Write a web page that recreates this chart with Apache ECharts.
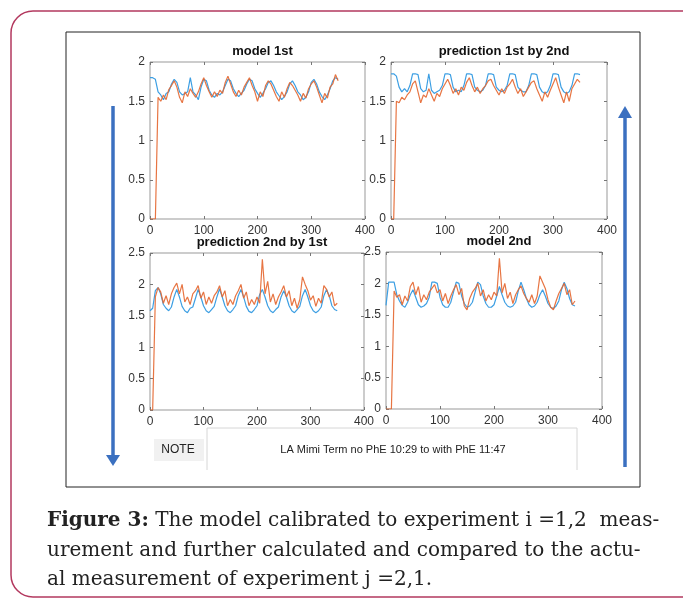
<!DOCTYPE html>
<html>
<head>
<meta charset="utf-8">
<script src="https://cdn.jsdelivr.net/npm/echarts@6/dist/echarts.min.js"></script>
<style>
html,body{margin:0;padding:0;background:#fff;}
#chart{width:683px;height:601px;}
</style>
</head>
<body>
<div id="chart"></div>
<script>
// ---- data ----
var xs = [0,5,10,15,20,25,30,35,40,45,
  50,55,60,65,70,75,80,85,90,95,
  100,105,110,115,120,125,130,135,140,145,
  150,155,160,165,170,175,180,185,190,195,
  200,205,210,215,220,225,230,235,240,245,
  250,255,260,265,270,275,280,285,290,295,
  300,305,310,315,320,325,330,335,340,345,
  350];

var titles = ['model 1st', 'prediction 1st by 2nd', 'prediction 2nd by 1st', 'model 2nd'];
var xTickMax = 400;
var topYMax = 2;
var bottomYMax = 2.5;

// model 1st
var tlBlue = [1.80,1.80,1.78,1.62,1.58,1.52,1.60,1.62,1.72,1.78,
  1.74,1.62,1.58,1.60,1.62,1.80,1.62,1.58,1.52,1.68,
  1.78,1.76,1.64,1.58,1.55,1.60,1.58,1.62,1.70,1.78,
  1.76,1.66,1.60,1.56,1.60,1.64,1.72,1.78,1.76,1.66,
  1.60,1.55,1.60,1.66,1.74,1.76,1.70,1.62,1.57,1.52,
  1.56,1.62,1.72,1.76,1.70,1.62,1.58,1.52,1.55,1.62,
  1.74,1.78,1.72,1.62,1.56,1.52,1.58,1.66,1.76,1.80,
  1.78];
var tlOrange = [0,0,0,1.55,1.50,1.58,1.52,1.65,1.70,1.76,
  1.68,1.55,1.48,1.62,1.56,1.66,1.60,1.55,1.62,1.72,
  1.80,1.70,1.62,1.55,1.62,1.56,1.64,1.60,1.74,1.82,
  1.72,1.62,1.56,1.64,1.58,1.68,1.74,1.80,1.70,1.62,
  1.50,1.62,1.56,1.70,1.76,1.72,1.64,1.56,1.50,1.62,
  1.55,1.66,1.74,1.70,1.64,1.58,1.50,1.60,1.54,1.66,
  1.72,1.76,1.68,1.58,1.48,1.60,1.54,1.68,1.72,1.84,
  1.76];

// prediction 1st by 2nd
var trBlue = [1.85,1.85,1.82,1.68,1.62,1.66,1.62,1.70,1.85,1.85,
  1.84,1.66,1.62,1.64,1.85,1.64,1.60,1.62,1.64,1.70,
  1.85,1.85,1.84,1.68,1.62,1.64,1.62,1.70,1.85,1.85,
  1.84,1.68,1.64,1.62,1.64,1.70,1.85,1.85,1.84,1.68,
  1.64,1.62,1.64,1.70,1.85,1.85,1.84,1.68,1.64,1.62,
  1.62,1.70,1.85,1.85,1.84,1.68,1.62,1.60,1.62,1.70,
  1.85,1.85,1.84,1.68,1.62,1.60,1.62,1.70,1.85,1.85,
  1.84];
var trOrange = [0,0,1.50,1.48,1.55,1.52,1.58,1.62,1.72,1.76,
  1.62,1.48,1.58,1.55,1.66,1.58,1.50,1.60,1.56,1.66,
  1.72,1.78,1.70,1.60,1.66,1.58,1.68,1.64,1.74,1.80,
  1.70,1.62,1.68,1.60,1.66,1.70,1.76,1.78,1.70,1.64,
  1.58,1.66,1.60,1.68,1.72,1.78,1.68,1.60,1.66,1.56,
  1.62,1.68,1.74,1.76,1.66,1.58,1.50,1.62,1.55,1.64,
  1.72,1.80,1.68,1.58,1.48,1.62,1.50,1.66,1.72,1.78,
  1.74];

// prediction 2nd by 1st
var blBlue = [1.58,1.62,1.90,1.95,1.85,1.68,1.62,1.58,1.64,1.80,
  1.92,1.80,1.65,1.58,1.55,1.62,1.64,1.78,1.92,1.80,
  1.66,1.58,1.55,1.60,1.65,1.80,1.93,1.80,1.66,1.58,
  1.55,1.60,1.66,1.82,1.92,1.80,1.65,1.57,1.55,1.60,
  1.66,1.84,1.92,1.80,1.66,1.58,1.55,1.60,1.64,1.80,
  1.90,1.80,1.66,1.58,1.55,1.60,1.65,1.82,1.92,1.80,
  1.66,1.58,1.55,1.58,1.64,1.82,1.92,1.82,1.66,1.60,
  1.58];
var blOrange = [0,0,1.80,1.95,1.88,1.70,1.82,1.68,1.85,1.95,
  2.02,1.85,2.00,1.72,1.80,1.68,1.85,1.90,1.98,1.78,
  1.88,1.68,1.80,1.70,1.82,1.88,1.98,1.80,1.90,1.66,
  1.76,1.68,1.82,1.90,2.00,1.78,1.88,1.66,1.76,1.68,
  1.80,1.70,2.40,1.85,2.05,1.72,1.85,1.68,1.80,1.88,
  1.98,1.80,1.90,1.66,1.78,1.62,1.76,2.12,2.00,1.90,
  1.75,1.82,1.65,1.78,1.70,1.98,1.92,1.80,1.88,1.66,
  1.70];

// model 2nd
var brBlue = [1.65,2.02,2.02,2.02,1.82,1.72,1.65,1.62,1.70,1.82,
  1.90,1.78,1.66,1.62,1.64,1.68,1.78,2.02,2.02,2.00,
  1.78,1.66,1.62,1.62,1.70,1.86,2.02,2.00,1.80,1.68,
  1.62,1.64,1.70,1.86,2.02,1.98,1.80,1.68,1.62,1.62,
  1.66,1.80,1.95,1.82,1.70,1.64,1.62,1.64,1.70,1.88,
  2.02,1.90,1.76,1.66,1.62,1.64,1.70,1.82,1.90,1.80,
  1.68,1.62,1.60,1.64,1.72,1.90,2.02,1.92,1.76,1.66,
  1.64];
var brOrange = [0,0,0,1.88,1.78,1.82,1.66,1.80,1.72,1.95,
  2.02,1.82,1.95,1.70,1.82,1.74,1.86,1.92,1.98,1.85,
  1.90,1.72,1.84,1.68,1.80,1.90,1.98,1.82,1.92,1.64,
  1.58,1.76,1.86,1.92,2.00,1.80,1.90,1.72,1.82,1.74,
  1.86,1.80,2.40,1.85,2.00,1.76,1.86,1.68,1.82,1.90,
  1.96,1.84,1.76,1.70,1.82,1.68,1.80,2.12,2.02,1.92,
  1.74,1.62,1.58,1.72,1.84,1.92,2.00,1.82,1.90,1.66,
  1.72];

var noteLabel = 'NOTE';
var noteText = 'LA Mimi Term no PhE 10:29 to with PhE 11:47';
var captionLines = [
  '{b|Figure 3:} The model calibrated to experiment i =1,2  meas-',
  'urement and further calculated and compared to the actu-',
  'al measurement of experiment j =2,1.'
];

// ---- layout ----
var grids = [
  {left:150, top:62, width:215, height:157},
  {left:391, top:62, width:216, height:157},
  {left:150, top:253, width:214, height:157},
  {left:386, top:252, width:216, height:157}
];
var yMaxes = [topYMax, topYMax, bottomYMax, bottomYMax];
var seriesData = [[tlBlue, tlOrange],[trBlue, trOrange],[blBlue, blOrange],[brBlue, brOrange]];
var BLUE = '#3d9fe3', ORANGE = '#e4662f';
var FONT = 'Liberation Sans, Arial, sans-serif';

function pairs(vals){ return xs.map(function(x,i){ return [x, vals[i]]; }); }
function tick(){ return {show:true, inside:true, length:3, lineStyle:{color:'#777', width:1}}; }

var xAxes = [], yAxes = [], series = [], titleArr = [];
grids.forEach(function(g, i){
  xAxes.push({type:'value', gridIndex:i, min:0, max:xTickMax, interval:100, position:'bottom',
    axisLine:{show:false, onZero:false}, axisTick:tick(), splitLine:{show:false},
    axisLabel:{color:'#333', fontSize:12, fontFamily:FONT, margin:6}});
  xAxes.push({type:'value', gridIndex:i, min:0, max:xTickMax, interval:100, position:'top',
    axisLine:{show:false, onZero:false}, axisTick:tick(), splitLine:{show:false}, axisLabel:{show:false}});
  yAxes.push({type:'value', gridIndex:i, min:0, max:yMaxes[i], interval:0.5, position:'left',
    axisLine:{show:false, onZero:false}, axisTick:tick(), splitLine:{show:false},
    axisLabel:{color:'#333', fontSize:12, fontFamily:FONT, margin:5}});
  yAxes.push({type:'value', gridIndex:i, min:0, max:yMaxes[i], interval:0.5, position:'right',
    axisLine:{show:false, onZero:false}, axisTick:tick(), splitLine:{show:false}, axisLabel:{show:false}});
  series.push({type:'line', xAxisIndex:2*i, yAxisIndex:2*i, data:pairs(seriesData[i][0]),
    showSymbol:false, symbol:'none', lineStyle:{color:BLUE, width:1.2}, animation:false, z:2});
  series.push({type:'line', xAxisIndex:2*i, yAxisIndex:2*i, data:pairs(seriesData[i][1]),
    showSymbol:false, symbol:'none', lineStyle:{color:ORANGE, width:1.2, opacity:0.9}, animation:false, z:3});
  titleArr.push({text:titles[i], left:g.left + g.width/2, top:g.top - 22, textAlign:'center',
    textStyle:{fontSize:13, fontWeight:'bold', color:'#111', fontFamily:FONT}});
});

var gridArr = grids.map(function(g){
  return {left:g.left, top:g.top, width:g.width, height:g.height, show:true,
    borderColor:'#999', borderWidth:1, backgroundColor:'#fff'};
});

var ARROW = '#3b70c0';
var CAPFONT = '"DejaVu Serif", serif';
var graphic = [
  {type:'rect', shape:{x:11, y:11, width:720, height:586, r:22}, style:{fill:'none', stroke:'#b3395f', lineWidth:1.5}, silent:true},
  {type:'rect', shape:{x:66, y:32, width:574, height:455}, style:{fill:'none', stroke:'#222', lineWidth:1}, silent:true},
  {type:'line', shape:{x1:113, y1:106, x2:113, y2:456}, style:{stroke:ARROW, lineWidth:3.5}, silent:true},
  {type:'polygon', shape:{points:[[106,455],[120,455],[113,466]]}, style:{fill:ARROW}, silent:true},
  {type:'line', shape:{x1:625, y1:116, x2:625, y2:467}, style:{stroke:ARROW, lineWidth:3.5}, silent:true},
  {type:'polygon', shape:{points:[[618,118],[632,118],[625,106]]}, style:{fill:ARROW}, silent:true},
  {type:'rect', shape:{x:154, y:439, width:50, height:22}, style:{fill:'#f1f1f1'}, silent:true},
  {type:'polyline', shape:{points:[[207,470],[207,428],[577,428],[577,470]]}, style:{stroke:'#d6d6d6', lineWidth:1, fill:'none'}, silent:true},
  {type:'text', x:178, y:450, style:{text:noteLabel, font:'12px ' + FONT, fill:'#222', align:'center', verticalAlign:'middle'}, silent:true},
  {type:'text', x:393, y:450, style:{text:noteText, font:'11px ' + FONT, fill:'#222', align:'center', verticalAlign:'middle'}, silent:true}
];
var capY = [521, 551, 580];
captionLines.forEach(function(t, i){
  graphic.push({type:'text', x:47, y:capY[i], style:{text:t, font:'20px ' + CAPFONT, fill:'#222',
    align:'left', verticalAlign:'middle',
    rich:{b:{fontWeight:'bold', fontSize:20, fontFamily:CAPFONT, fill:'#222'}}}, silent:true});
});

var chart = echarts.init(document.getElementById('chart'));
chart.setOption({
  animation:false,
  backgroundColor:'#fff',
  title:titleArr,
  grid:gridArr,
  xAxis:xAxes,
  yAxis:yAxes,
  series:series,
  graphic:graphic
});
</script>
</body>
</html>
